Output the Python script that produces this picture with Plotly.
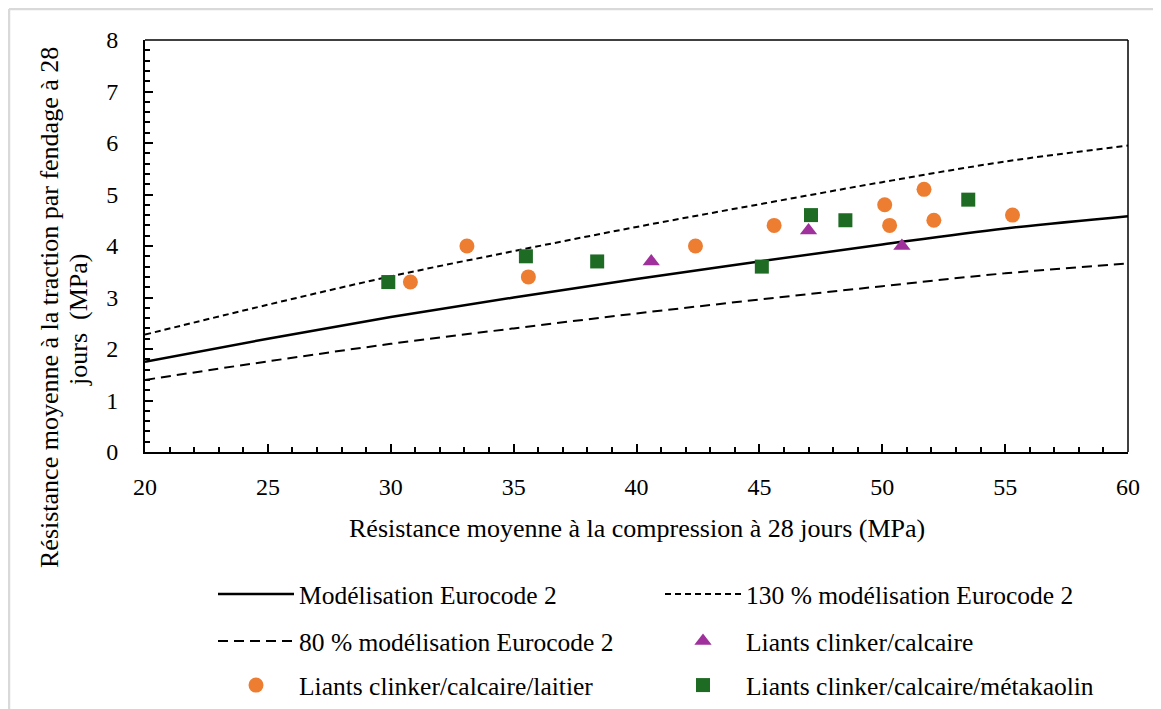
import plotly.graph_objects as go

# ---------------- data ----------------
x_model = [20, 25, 30, 35, 40, 45, 50, 55, 60]
y_model = [1.75, 2.20, 2.62, 3.00, 3.36, 3.70, 4.03, 4.34, 4.58]
y_model_130 = [2.28, 2.86, 3.41, 3.90, 4.37, 4.81, 5.24, 5.64, 5.95]
y_model_80 = [1.40, 1.76, 2.10, 2.40, 2.69, 2.96, 3.22, 3.47, 3.66]

x_calcaire = [40.6, 47.0, 50.8]
y_calcaire = [3.7, 4.3, 4.0]

x_laitier = [30.8, 33.1, 35.6, 42.4, 45.6, 50.1, 50.3, 51.7, 52.1, 55.3]
y_laitier = [3.3, 4.0, 3.4, 4.0, 4.4, 4.8, 4.4, 5.1, 4.5, 4.6]

x_meta = [29.9, 35.5, 38.4, 45.1, 47.1, 48.5, 53.5]
y_meta = [3.3, 3.8, 3.7, 3.6, 4.6, 4.5, 4.9]

names = [
    "Modélisation Eurocode 2",
    "130 % modélisation Eurocode 2",
    "80 % modélisation Eurocode 2",
    "Liants clinker/calcaire",
    "Liants clinker/calcaire/laitier",
    "Liants clinker/calcaire/métakaolin",
]

x_title = "Résistance moyenne à la compression à 28 jours (MPa)"
y_title_l1 = "Résistance moyenne à la traction par fendage à 28"
y_title_l2 = "jours  (MPa)"

# ---------------- layout helpers ----------------
OFF = 8                      # page body margin
W, H = 1161 - OFF, 709 - OFF
PLOT_L, PLOT_R, PLOT_T, PLOT_B = 145, 1128, 40, 452   # absolute window px
L = PLOT_L - OFF
T = PLOT_T - OFF
R = W - (PLOT_R - OFF)
B = H - (PLOT_B - OFF)
PW, PH = PLOT_R - PLOT_L, PLOT_B - PLOT_T
FONT = "Liberation Serif"
FS_TITLE = 26
FS_TICK = 24
FS_LEG = 25.5


def px_x(px):
    return (px - PLOT_L) / PW


def px_y(py):
    return (PLOT_B - py) / PH


fig = go.Figure()

fig.add_trace(go.Scatter(x=x_model, y=y_model, mode="lines", name=names[0],
                         line=dict(color="black", width=2.5, shape="spline"),
                         legend="legend"))
fig.add_trace(go.Scatter(x=x_model, y=y_model_130, mode="lines", name=names[1],
                         line=dict(color="black", width=2, dash="6px,4px", shape="spline"),
                         legend="legend2"))
fig.add_trace(go.Scatter(x=x_model, y=y_model_80, mode="lines", name=names[2],
                         line=dict(color="black", width=2, dash="10px,6px", shape="spline"),
                         legend="legend3"))
fig.add_trace(go.Scatter(x=x_calcaire, y=y_calcaire, mode="markers", name=names[3],
                         marker=dict(symbol="triangle-up", size=15, color="#A0309B"),
                         legend="legend4"))
fig.add_trace(go.Scatter(x=x_laitier, y=y_laitier, mode="markers", name=names[4],
                         marker=dict(symbol="circle", size=15, color="#ED7D31"),
                         legend="legend5"))
fig.add_trace(go.Scatter(x=x_meta, y=y_meta, mode="markers", name=names[5],
                         marker=dict(symbol="square", size=14, color="#1E6B24"),
                         legend="legend6"))

col_x = [205, 652]            # container px (figure coords)
row_y = [596, 643, 687]       # absolute window px of row centres
legend_pos = [(0, 0), (1, 0), (0, 1), (1, 1), (0, 2), (1, 2)]
legend_keys = ["legend", "legend2", "legend3", "legend4", "legend5", "legend6"]
legend_layout = {}
for key, (c, r) in zip(legend_keys, legend_pos):
    legend_layout[key] = dict(
        xref="container", yref="container",
        x=col_x[c] / W, y=1 - (row_y[r] - OFF - 1.5) / H,
        xanchor="left", yanchor="middle",
        font=dict(family=FONT, size=FS_LEG, color="black"),
        itemwidth=76, bgcolor="rgba(0,0,0,0)", borderwidth=0,
        orientation="h",
    )

axis_common = dict(
    showline=True, linecolor="black", linewidth=2,
    ticks="inside", ticklen=8, tickwidth=2, tickcolor="black",
    showgrid=False, zeroline=False,
    tickfont=dict(family=FONT, size=FS_TICK, color="black"),
)

fig.update_layout(
    width=W, height=H,
    margin=dict(l=L, r=R, t=T, b=B, autoexpand=False),
    paper_bgcolor="white", plot_bgcolor="white",
    showlegend=True,
    font=dict(family=FONT, size=FS_TITLE, color="black"),
    xaxis=dict(range=[20, 60], dtick=5, tick0=20,
               minor=dict(dtick=1, ticks="inside", ticklen=5, tickwidth=2, tickcolor="black"),
               ticklabelstandoff=12, **axis_common),
    yaxis=dict(range=[0, 8], dtick=1, tick0=0,
               minor=dict(dtick=0.2, ticks="inside", ticklen=5, tickwidth=2, tickcolor="black"),
               ticklabelstandoff=20, **axis_common),
    **legend_layout,
)

# frame (top and right thin lines)
fig.add_shape(type="line", xref="paper", yref="paper", x0=0, x1=1, y0=1, y1=1,
              line=dict(color="black", width=1.5))
fig.add_shape(type="line", xref="paper", yref="paper", x0=1, x1=1, y0=0, y1=1,
              line=dict(color="black", width=1.5))

# light grey figure border (left and top)
fig.add_shape(type="line", xref="paper", yref="paper",
              x0=px_x(9), x1=px_x(9), y0=px_y(9), y1=px_y(720),
              line=dict(color="#d9d9d9", width=2.5))
fig.add_shape(type="line", xref="paper", yref="paper",
              x0=px_x(9), x1=px_x(1170), y0=px_y(9), y1=px_y(9),
              line=dict(color="#d9d9d9", width=2.5))

# axis titles
fig.add_annotation(text=x_title, xref="paper", yref="paper",
                   x=px_x(636.5), y=px_y(528), xanchor="center", yanchor="middle",
                   showarrow=False, font=dict(family=FONT, size=FS_TITLE, color="black"))
fig.add_annotation(text=y_title_l1, xref="paper", yref="paper",
                   x=px_x(49), y=px_y(308), xanchor="center", yanchor="middle",
                   textangle=-90, showarrow=False,
                   font=dict(family=FONT, size=FS_TITLE, color="black"))
fig.add_annotation(text=y_title_l2, xref="paper", yref="paper",
                   x=px_x(79), y=px_y(320), xanchor="center", yanchor="middle",
                   textangle=-90, showarrow=False,
                   font=dict(family=FONT, size=FS_TITLE, color="black"))

fig.write_html("out.html")
